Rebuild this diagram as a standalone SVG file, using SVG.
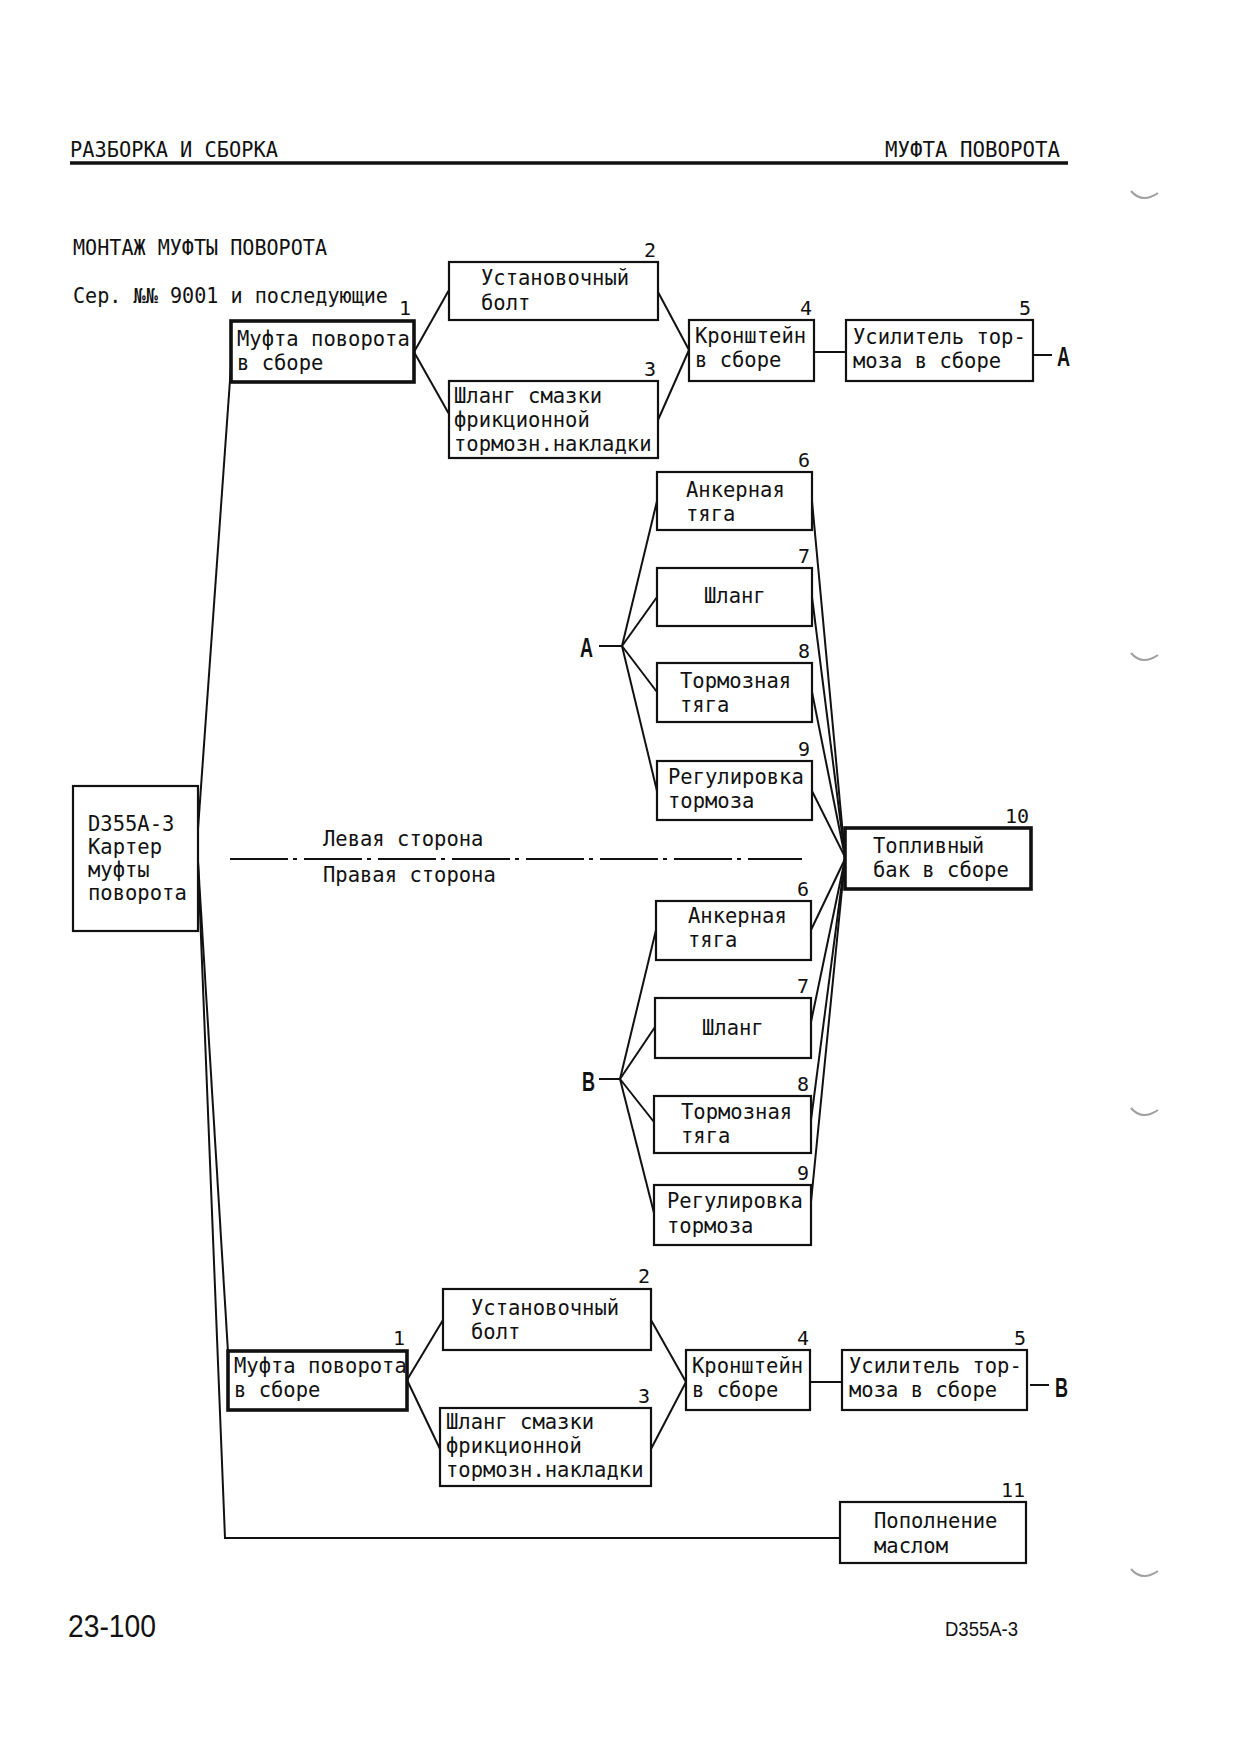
<svg xmlns="http://www.w3.org/2000/svg" width="1240" height="1755" viewBox="0 0 1240 1755">
<style>
.t{font-family:"DejaVu Sans Mono","Liberation Mono",monospace;font-size:20.5px;fill:#111}
.n{font-family:"DejaVu Sans Mono","Liberation Mono",monospace;font-size:20px;fill:#111;text-anchor:end}
.box{fill:#fff;stroke:#111;stroke-width:2.2}
.thick{stroke-width:3.6}
.c{stroke:#111;stroke-width:2;fill:none}
.big{font-family:"Liberation Sans",Arial,sans-serif;font-weight:bold;font-size:27px;fill:#111}
.ft{font-family:"Liberation Sans",Arial,sans-serif;fill:#111}
.mark{stroke:#a0a0a0;stroke-width:2;fill:none}
</style>
<rect width="1240" height="1755" fill="#fff"/>

<g id="header">
<text class="t" x="70" y="157" font-size="20" textLength="208" lengthAdjust="spacingAndGlyphs">РАЗБОРКА И СБОРКА</text>
<text class="t" x="885" y="157" font-size="20" textLength="175" lengthAdjust="spacingAndGlyphs">МУФТА ПОВОРОТА</text>
<line x1="70" y1="163" x2="1068" y2="163" stroke="#111" stroke-width="3.5"/>
<text class="t" x="73" y="255" textLength="254" lengthAdjust="spacingAndGlyphs">МОНТАЖ МУФТЫ ПОВОРОТА</text>
<text class="t" x="73" y="303" textLength="315" lengthAdjust="spacingAndGlyphs">Сер. №№ 9001 и последующие</text>
</g>

<g id="connectors">
<!-- trunk -->
<polyline class="c" points="232,352 198,829"/>
<polyline class="c" points="198,862 228,1352"/>
<polyline class="c" points="198,862 225,1538 840,1538"/>
<!-- top branch -->
<line class="c" x1="414" y1="352" x2="449" y2="290"/>
<line class="c" x1="414" y1="352" x2="449" y2="414"/>
<line class="c" x1="658" y1="292" x2="689" y2="350"/>
<line class="c" x1="658" y1="420" x2="689" y2="350"/>
<line class="c" x1="814" y1="352" x2="846" y2="352"/>
<line class="c" x1="1033" y1="355" x2="1052" y2="355"/>
<!-- A fan -->
<line class="c" x1="599" y1="646" x2="622" y2="646"/>
<line class="c" x1="622" y1="646" x2="657" y2="501"/>
<line class="c" x1="622" y1="646" x2="657" y2="597"/>
<line class="c" x1="622" y1="646" x2="657" y2="692"/>
<line class="c" x1="622" y1="646" x2="657" y2="791"/>
<line class="c" x1="812" y1="501" x2="845" y2="857"/>
<line class="c" x1="812" y1="597" x2="845" y2="857"/>
<line class="c" x1="812" y1="692" x2="845" y2="857"/>
<line class="c" x1="812" y1="791" x2="845" y2="857"/>
<!-- B fan -->
<line class="c" x1="599" y1="1079" x2="620" y2="1079"/>
<line class="c" x1="620" y1="1079" x2="656" y2="930"/>
<line class="c" x1="620" y1="1079" x2="655" y2="1027"/>
<line class="c" x1="620" y1="1079" x2="654" y2="1122"/>
<line class="c" x1="620" y1="1079" x2="654" y2="1213"/>
<line class="c" x1="811" y1="930" x2="845" y2="859"/>
<line class="c" x1="811" y1="1022" x2="845" y2="859"/>
<line class="c" x1="811" y1="1120" x2="845" y2="859"/>
<line class="c" x1="811" y1="1202" x2="845" y2="859"/>
<!-- bottom branch -->
<line class="c" x1="407" y1="1380" x2="443" y2="1320"/>
<line class="c" x1="407" y1="1380" x2="440" y2="1449"/>
<line class="c" x1="651" y1="1320" x2="686" y2="1382"/>
<line class="c" x1="651" y1="1449" x2="686" y2="1382"/>
<line class="c" x1="810" y1="1382" x2="842" y2="1382"/>
<line class="c" x1="1030" y1="1385" x2="1049" y2="1385"/>
</g>

<g id="sides">
<line x1="230" y1="859" x2="802" y2="859" stroke="#111" stroke-width="2.2" stroke-dasharray="58 5 4 7"/>
<text class="t" x="323" y="846">Левая сторона</text>
<text class="t" x="323" y="882">Правая сторона</text>
</g>

<g id="node-main">
<rect class="box" x="73" y="786" width="125" height="145"/>
<text class="t" x="88" y="831">D355A-3</text>
<text class="t" x="88" y="854">Картер</text>
<text class="t" x="88" y="877">муфты</text>
<text class="t" x="88" y="900">поворота</text>
</g>

<g id="node-1-top">
<rect class="box thick" x="231" y="321" width="183" height="61"/>
<text class="t" x="237" y="346">Муфта поворота</text>
<text class="t" x="237" y="370">в сборе</text>
<text class="n" x="411" y="315">1</text>
</g>
<g id="node-2-top">
<rect class="box" x="449" y="262" width="209" height="58"/>
<text class="t" x="481" y="285">Установочный</text>
<text class="t" x="481" y="310">болт</text>
<text class="n" x="656" y="257">2</text>
</g>
<g id="node-3-top">
<rect class="box" x="449" y="381" width="209" height="77"/>
<text class="t" x="454" y="403">Шланг смазки</text>
<text class="t" x="454" y="427">фрикционной</text>
<text class="t" x="454" y="451">тормозн.накладки</text>
<text class="n" x="656" y="376">3</text>
</g>
<g id="node-4-top">
<rect class="box" x="689" y="320" width="125" height="61"/>
<text class="t" x="695" y="343">Кронштейн</text>
<text class="t" x="695" y="367">в сборе</text>
<text class="n" x="812" y="315">4</text>
</g>
<g id="node-5-top">
<rect class="box" x="846" y="320" width="187" height="61"/>
<text class="t" x="853" y="344">Усилитель тор-</text>
<text class="t" x="853" y="368">моза в сборе</text>
<text class="n" x="1031" y="315">5</text>
</g>
<g id="mark-A-out"><text class="big" x="1057" y="366" textLength="13" lengthAdjust="spacingAndGlyphs">A</text></g>

<g id="mark-A-in"><text class="big" x="580" y="657" textLength="13" lengthAdjust="spacingAndGlyphs">A</text></g>
<g id="node-6-A">
<rect class="box" x="657" y="472" width="155" height="58"/>
<text class="t" x="686" y="497">Анкерная</text>
<text class="t" x="686" y="521">тяга</text>
<text class="n" x="810" y="467">6</text>
</g>
<g id="node-7-A">
<rect class="box" x="657" y="568" width="155" height="58"/>
<text class="t" x="704" y="603">Шланг</text>
<text class="n" x="810" y="563">7</text>
</g>
<g id="node-8-A">
<rect class="box" x="657" y="663" width="155" height="59"/>
<text class="t" x="680" y="688">Тормозная</text>
<text class="t" x="680" y="712">тяга</text>
<text class="n" x="810" y="658">8</text>
</g>
<g id="node-9-A">
<rect class="box" x="657" y="761" width="155" height="59"/>
<text class="t" x="668" y="784">Регулировка</text>
<text class="t" x="668" y="808">тормоза</text>
<text class="n" x="810" y="756">9</text>
</g>

<g id="node-10">
<rect class="box thick" x="845" y="828" width="186" height="61"/>
<text class="t" x="873" y="853">Топливный</text>
<text class="t" x="873" y="877">бак в сборе</text>
<text class="n" x="1029" y="823">10</text>
</g>

<g id="mark-B-in"><text class="big" x="582" y="1091" textLength="13" lengthAdjust="spacingAndGlyphs">B</text></g>
<g id="node-6-B">
<rect class="box" x="656" y="901" width="155" height="59"/>
<text class="t" x="688" y="923">Анкерная</text>
<text class="t" x="688" y="947">тяга</text>
<text class="n" x="809" y="896">6</text>
</g>
<g id="node-7-B">
<rect class="box" x="655" y="998" width="156" height="60"/>
<text class="t" x="702" y="1035">Шланг</text>
<text class="n" x="809" y="993">7</text>
</g>
<g id="node-8-B">
<rect class="box" x="654" y="1096" width="157" height="57"/>
<text class="t" x="681" y="1119">Тормозная</text>
<text class="t" x="681" y="1143">тяга</text>
<text class="n" x="809" y="1091">8</text>
</g>
<g id="node-9-B">
<rect class="box" x="654" y="1185" width="157" height="60"/>
<text class="t" x="667" y="1208">Регулировка</text>
<text class="t" x="667" y="1233">тормоза</text>
<text class="n" x="809" y="1180">9</text>
</g>

<g id="node-1-bottom">
<rect class="box thick" x="228" y="1351" width="179" height="59"/>
<text class="t" x="234" y="1373">Муфта поворота</text>
<text class="t" x="234" y="1397">в сборе</text>
<text class="n" x="405" y="1345">1</text>
</g>
<g id="node-2-bottom">
<rect class="box" x="443" y="1289" width="208" height="61"/>
<text class="t" x="471" y="1315">Установочный</text>
<text class="t" x="471" y="1339">болт</text>
<text class="n" x="650" y="1283">2</text>
</g>
<g id="node-3-bottom">
<rect class="box" x="440" y="1408" width="211" height="78"/>
<text class="t" x="446" y="1429">Шланг смазки</text>
<text class="t" x="446" y="1453">фрикционной</text>
<text class="t" x="446" y="1477">тормозн.накладки</text>
<text class="n" x="650" y="1403">3</text>
</g>
<g id="node-4-bottom">
<rect class="box" x="686" y="1350" width="124" height="60"/>
<text class="t" x="692" y="1373">Кронштейн</text>
<text class="t" x="692" y="1397">в сборе</text>
<text class="n" x="809" y="1345">4</text>
</g>
<g id="node-5-bottom">
<rect class="box" x="842" y="1350" width="185" height="60"/>
<text class="t" x="849" y="1373">Усилитель тор-</text>
<text class="t" x="849" y="1397">моза в сборе</text>
<text class="n" x="1026" y="1345">5</text>
</g>
<g id="mark-B-out"><text class="big" x="1055" y="1397" textLength="13" lengthAdjust="spacingAndGlyphs">B</text></g>

<g id="node-11">
<rect class="box" x="840" y="1502" width="186" height="61" stroke-width="2.6"/>
<text class="t" x="874" y="1528">Пополнение</text>
<text class="t" x="874" y="1553">маслом</text>
<text class="n" x="1025" y="1497">11</text>
</g>

<g id="footer">
<text class="ft" x="68" y="1637" font-size="31" textLength="88" lengthAdjust="spacingAndGlyphs">23-100</text>
<text class="ft" x="945" y="1636" font-size="20" textLength="73" lengthAdjust="spacingAndGlyphs">D355A-3</text>
</g>

<g id="margin-marks">
<path class="mark" d="M1131,191 Q1142,204 1158,193"/>
<path class="mark" d="M1131,653 Q1142,666 1158,655"/>
<path class="mark" d="M1131,1108 Q1142,1121 1158,1110"/>
<path class="mark" d="M1131,1569 Q1142,1582 1158,1571"/>
</g>
</svg>
